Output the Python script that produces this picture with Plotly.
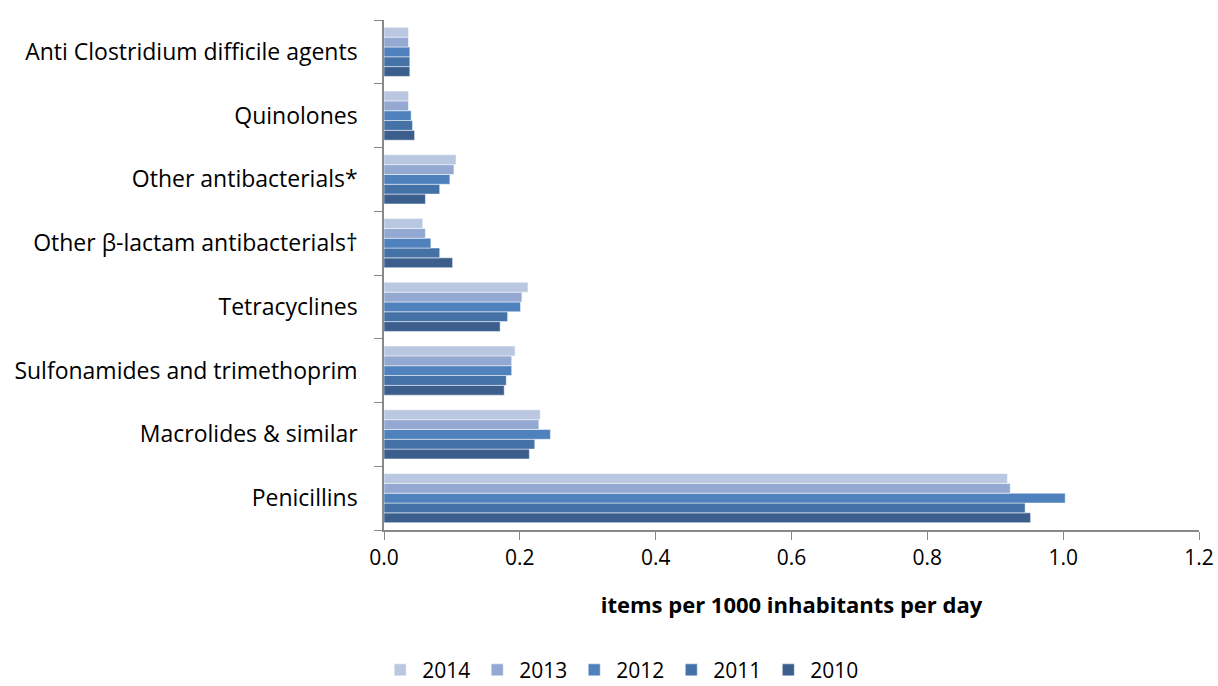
import plotly.graph_objects as go

# Antibacterial classes, listed bottom to top on the category axis
classes = [
    "Penicillins",
    "Macrolides & similar",
    "Sulfonamides and trimethoprim",
    "Tetracyclines",
    "Other β-lactam antibacterials†",
    "Other antibacterials*",
    "Quinolones",
    "Anti Clostridium difficile agents",
]

# Items per 1000 inhabitants per day, by year
y2010 = [0.952, 0.214, 0.177, 0.171, 0.101, 0.061, 0.045, 0.038]
y2011 = [0.944, 0.222, 0.180, 0.182, 0.082, 0.082, 0.042, 0.038]
y2012 = [1.003, 0.245, 0.188, 0.201, 0.069, 0.097, 0.040, 0.038]
y2013 = [0.922, 0.228, 0.188, 0.203, 0.061, 0.103, 0.036, 0.036]
y2014 = [0.918, 0.230, 0.193, 0.212, 0.057, 0.106, 0.036, 0.036]

years = ["2010", "2011", "2012", "2013", "2014"]
series = [y2010, y2011, y2012, y2013, y2014]
colors = ["#3B5E8D", "#4472A7", "#4F81BD", "#93A9D1", "#B9C7E1"]

xticks = [0.0, 0.2, 0.4, 0.6, 0.8, 1.0, 1.2]

FONT = "Open Sans"

fig = go.Figure()
for name, vals, col in zip(years, series, colors):
    fig.add_trace(go.Bar(
        y=classes,
        x=vals,
        name=name,
        orientation="h",
        marker=dict(color=col, line=dict(color="rgba(255,255,255,0.6)", width=0.8)),
    ))

fig.update_layout(
    width=1218,
    height=686,
    barmode="group",
    bargap=0.23,
    bargroupgap=0,
    plot_bgcolor="white",
    paper_bgcolor="white",
    margin=dict(l=384, r=19, t=20, b=156),
    font=dict(family=FONT, size=21, color="#000000"),
    legend=dict(
        orientation="h",
        traceorder="reversed",
        xref="container",
        x=0.51,
        xanchor="center",
        yref="container",
        y=0.023,
        yanchor="middle",
        font=dict(family=FONT, size=21),
        itemwidth=34,
    ),
    xaxis=dict(
        range=[0, 1.2],
        tickvals=xticks,
        tickformat=".1f",
        automargin=False,
        showgrid=False,
        zeroline=False,
        showline=True,
        linecolor="#888888",
        linewidth=1.5,
        ticks="outside",
        ticklen=8,
        tickcolor="#888888",
        tickfont=dict(family=FONT, size=21),
        title=dict(
            text="<b>items per 1000 inhabitants per day</b>",
            font=dict(family=FONT, size=22),
            standoff=28,
        ),
    ),
    yaxis=dict(
        type="category",
        automargin=False,
        showgrid=False,
        showline=True,
        linecolor="#888888",
        linewidth=1.5,
        ticks="outside",
        tickson="boundaries",
        ticklen=8,
        tickcolor="#888888",
        tickfont=dict(family=FONT, size=23),
        ticklabelstandoff=20,
    ),
)

fig.write_html("out.html")
